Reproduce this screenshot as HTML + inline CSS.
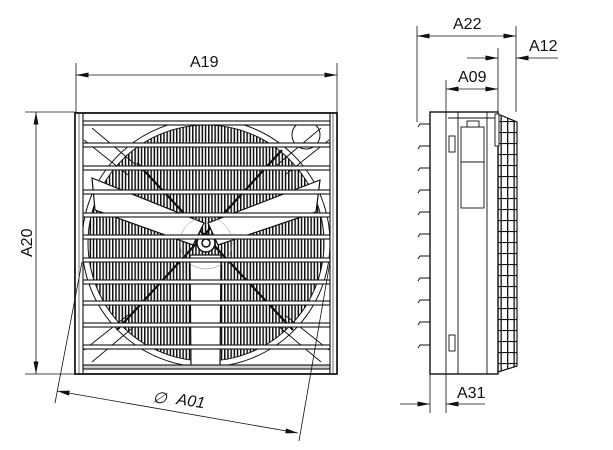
<!DOCTYPE html>
<html><head><meta charset="utf-8"><style>
html,body{margin:0;padding:0;background:#fff;width:613px;height:450px;overflow:hidden}
text{font-family:"Liberation Sans",Arial,sans-serif;font-size:16px;fill:#111}
</style></head><body>
<svg width="613" height="450" viewBox="0 0 613 450" xmlns="http://www.w3.org/2000/svg">
<defs>
<pattern id="grl" width="3.2" height="10" patternUnits="userSpaceOnUse">
<rect width="3.2" height="10" fill="#fff"/><rect x="0" width="1.5" height="10" fill="#111"/>
</pattern>
<pattern id="grd" width="6.5" height="11" patternUnits="userSpaceOnUse">
<rect width="6.5" height="11" fill="#fff"/><rect x="0" width="1.3" height="11" fill="#111"/><rect y="0" width="6.5" height="1.1" fill="#111"/>
</pattern>
<marker id="ar" viewBox="0 0 10 4" refX="10" refY="2" markerWidth="14" markerHeight="5" orient="auto-start-reverse" markerUnits="userSpaceOnUse"><path d="M0,0 L10,2 L0,4z" fill="#111"/></marker>
<clipPath id="fr"><rect x="83" y="125" width="247" height="242"/></clipPath>
</defs>

<g stroke="#111" fill="none">
<rect x="75" y="113" width="262" height="261" fill="#fff" stroke-width="1.4"/>
<g clip-path="url(#fr)">
<circle cx="206" cy="243" r="118" fill="url(#grl)" stroke="none"/>
<circle cx="206" cy="243" r="124" stroke-width="1"/>
<circle cx="206" cy="243" r="118" stroke-width="1"/>
<g stroke-width="0.9">
<path d="M84,140 L128,175 M92,128 L136,165"/>
<path d="M329,140 L285,175 M321,128 L277,165"/>
<path d="M84,350 L128,315 M92,362 L136,325"/>
<path d="M329,350 L285,315 M321,362 L277,325"/>
</g>
<path d="M282,150 L117,330 M137,163 L293,330" stroke-width="2.2"/>
<path d="M92,178 L95,210 L193,245 L204,223 Z" fill="#fff" stroke-width="1.2"/>
<path d="M320,180 L316,212 L218,245 L208,223 Z" fill="#fff" stroke-width="1.2"/>
<path d="M190,255 L221,255 L220,367 L191,367 Z" fill="#fff" stroke-width="1.2"/>
<circle cx="206" cy="243" r="26" stroke-width="0.5" stroke="#888"/>
<circle cx="206" cy="243" r="9" fill="#fff" stroke-width="1.5"/>
<circle cx="206" cy="243" r="4" stroke-width="1.5"/>
<circle cx="306" cy="135" r="14" stroke-width="1"/>
</g>
<g fill="#fff" stroke-width="1.1">
<rect x="83" y="121" width="247" height="4"/>
<rect x="83" y="143" width="247" height="4"/>
<rect x="83" y="166" width="247" height="4"/>
<rect x="83" y="190" width="247" height="4"/>
<rect x="83" y="213" width="247" height="4"/>
<rect x="83" y="235" width="247" height="4"/>
<rect x="83" y="258" width="247" height="4"/>
<rect x="83" y="280" width="247" height="4"/>
<rect x="83" y="301" width="247" height="4"/>
<rect x="83" y="323" width="247" height="4"/>
<rect x="83" y="345" width="247" height="4"/>
<rect x="83" y="365" width="247" height="4" fill="#ccc"/>
</g>
<rect x="75" y="113" width="8" height="261" fill="#fff" stroke-width="1.1"/>
<rect x="330" y="113" width="7" height="261" fill="#fff" stroke-width="1.1"/>
<line x1="79" y1="113" x2="79" y2="374" stroke-width="0.6"/>
<line x1="333" y1="113" x2="333" y2="374" stroke-width="0.6"/>
<rect x="75" y="113" width="262" height="261" stroke-width="1.6"/>
</g>

<g stroke="#111" stroke-width="0.8" fill="none">
<line x1="76" y1="63" x2="76" y2="113"/>
<line x1="337" y1="63" x2="337" y2="113"/>
<line x1="76" y1="75" x2="337" y2="75" marker-start="url(#ar)" marker-end="url(#ar)"/>
<line x1="25" y1="112" x2="75" y2="112"/>
<line x1="25" y1="374" x2="75" y2="374"/>
<line x1="36" y1="112" x2="36" y2="374" marker-start="url(#ar)" marker-end="url(#ar)"/>
<line x1="55" y1="403" x2="82" y2="262"/>
<line x1="299" y1="441" x2="330" y2="262"/>
<line x1="57" y1="391" x2="298" y2="433" marker-start="url(#ar)" marker-end="url(#ar)"/>
</g>
<text x="190" y="67">A19</text>
<text transform="translate(32,257) rotate(-90)">A20</text>
<text transform="translate(152,402) rotate(9)" font-style="italic" font-size="17">∅</text>
<text transform="translate(176,404) rotate(9)" font-style="italic">A01</text>

<g stroke="#111" fill="#fff">
<path d="M498,114 L517,122 L517,366 L498,372 Z" fill="url(#grd)" stroke-width="1.2"/>
<rect x="430" y="112" width="68" height="262" stroke-width="1.4"/>
<g fill="none" stroke-width="0.9">
<line x1="446" y1="112" x2="446" y2="374"/>
<line x1="458" y1="112" x2="458" y2="374"/>
<line x1="487" y1="112" x2="487" y2="374"/>
<line x1="448" y1="118" x2="496" y2="118"/>
</g>
<rect x="461" y="127" width="23" height="35" stroke-width="0.9"/>
<rect x="461" y="162" width="23" height="46" stroke-width="0.9"/>
<rect x="467" y="121" width="12" height="6" stroke-width="0.9"/>
<rect x="449" y="136" width="6" height="16" stroke-width="0.9"/>
<rect x="449" y="335" width="6" height="16" stroke-width="0.9"/>
<rect x="495" y="114" width="4" height="32" stroke-width="0.9"/>
</g>
<g stroke="#111" stroke-width="1" fill="none">
<path d="M430,124 H420 l-2,3 M430,146 H420 l-2,3 M430,168 H420 l-2,3 M430,190 H420 l-2,3 M430,212 H420 l-2,3 M430,234 H420 l-2,3 M430,256 H420 l-2,3 M430,278 H420 l-2,3 M430,300 H420 l-2,3 M430,322 H420 l-2,3 M430,345 H420 l-2,3"/>
</g>
<g stroke="#111" stroke-width="0.8" fill="none">
<line x1="417" y1="26" x2="417" y2="122"/>
<line x1="516" y1="26" x2="516" y2="112"/>
<line x1="417" y1="36" x2="516" y2="36" marker-start="url(#ar)" marker-end="url(#ar)"/>
<line x1="498" y1="48" x2="498" y2="112"/>
<line x1="467" y1="58" x2="498" y2="58" marker-end="url(#ar)"/>
<line x1="558" y1="58" x2="516" y2="58" marker-end="url(#ar)"/>
<line x1="446" y1="80" x2="446" y2="112"/>
<line x1="446" y1="89" x2="498" y2="89" marker-start="url(#ar)" marker-end="url(#ar)"/>
<line x1="430" y1="374" x2="430" y2="413"/>
<line x1="446" y1="374" x2="446" y2="413"/>
<line x1="400" y1="404" x2="430" y2="404" marker-end="url(#ar)"/>
<line x1="485" y1="404" x2="446" y2="404" marker-end="url(#ar)"/>
</g>
<text x="453" y="29">A22</text>
<text x="529" y="51">A12</text>
<text x="458" y="82">A09</text>
<text x="457" y="398">A31</text>
</svg>
</body></html>
